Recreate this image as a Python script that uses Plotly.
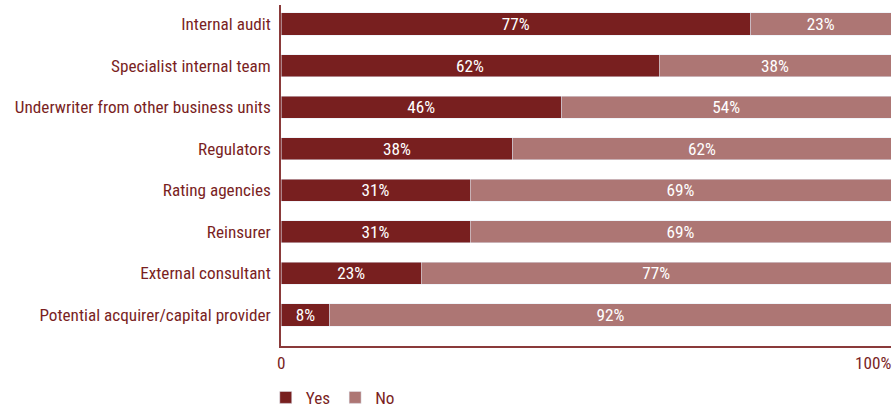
import plotly.graph_objects as go

categories = ["Internal audit", "Specialist internal team", "Underwriter from other business units",
              "Regulators", "Rating agencies", "Reinsurer", "External consultant",
              "Potential acquirer/capital provider"]
yes_vals = [77, 62, 46, 38, 31, 31, 23, 8]
no_vals = [23, 38, 54, 62, 69, 69, 77, 92]
x_ticks = [0, 100]
x_tick_labels = ["0", "100%"]

YES = "#781F1F"
NO = "#AD7674"
TXT = "#7A1F1F"
FONT = "Liberation Sans Narrow, Roboto Condensed, Arial Narrow, sans-serif"
FS = 17.2

fig = go.Figure()
for name, vals, col in [("Yes", yes_vals, YES), ("No", no_vals, NO)]:
    fig.add_bar(y=categories, x=vals, name=name, orientation="h", marker_color=col,
                text=[f"{v}%" for v in vals], textposition="inside", insidetextanchor="middle",
                textangle=0, constraintext="none",
                textfont=dict(color="white", size=FS, family=FONT), width=0.53)

fig.update_layout(
    barmode="stack", width=895, height=410,
    margin=dict(l=281, r=4, t=5, b=64, autoexpand=False),
    paper_bgcolor="white", plot_bgcolor="white",
    font=dict(family=FONT, size=FS, color=TXT),
    uniformtext=dict(mode="show", minsize=FS),
    legend=dict(orientation="h", x=-0.025, xanchor="left", yref="container", y=0.03,
                yanchor="middle", font=dict(size=FS, color=TXT), itemwidth=30,
                traceorder="normal"),
)
fig.update_xaxes(range=[0, 100], showgrid=False, zeroline=False, showline=True,
                 linecolor="#8A3A3A", linewidth=1.5, tickvals=x_ticks, showticklabels=False,
                 ticks="inside", ticklen=12, tickcolor="#8A3A3A")
fig.update_yaxes(categoryorder="array", categoryarray=categories,
                 range=[7.746, -0.457], showgrid=False, zeroline=False, showline=True,
                 linecolor="#8A3A3A", linewidth=1.5, ticks="", ticklabelstandoff=5,
                 tickfont=dict(size=FS, color=TXT))

for v, t in zip(x_ticks, x_tick_labels):
    fig.add_annotation(x=v, y=-0.05, xref="x", yref="paper", text=t, showarrow=False,
                       xanchor="center" if v == 0 else "right", yanchor="middle",
                       font=dict(size=FS, color=TXT, family=FONT),
                       xshift=0 if v == 0 else 2)

fig.write_html("out.html")
